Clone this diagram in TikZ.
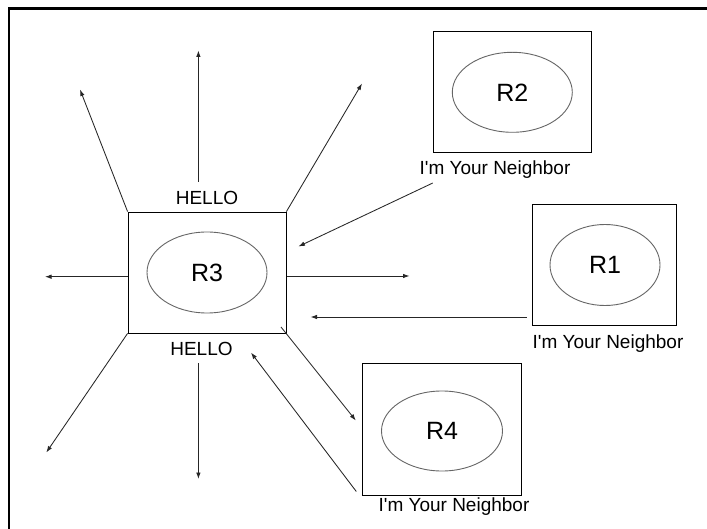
\documentclass[tikz,border=0pt]{standalone}
\usepackage{fontspec}
\setmainfont{Liberation Sans}[Ligatures=TeXOff]
\usetikzlibrary{arrows.meta,shapes.geometric}

\begin{document}
\begin{tikzpicture}[x=1pt,y=-1pt,
  router/.style={draw=black,line width=0.85pt,fill=none,inner sep=0pt},
  core/.style={ellipse,draw=black!60,line width=0.9pt,inner sep=0pt,
    font=\fontsize{25}{30}\selectfont},
  tag/.style={inner sep=0pt,font=\fontsize{19}{22}\selectfont},
  msg/.style={draw=black!85,line width=0.85pt,
    -{Latex[length=6.5pt,width=4.5pt]}}]

\useasboundingbox (0,0) rectangle (707,529);
\fill[white] (0,0) rectangle (707,529);

% outer frame
\draw[line width=2.6pt,line cap=rect] (9,529) -- (9,8.5) -- (707,8.5);

% routers: frame and inner ellipse
\node[router,minimum width=158pt,minimum height=121pt] (r3box) at (207,272.5) {};
\node[core,minimum width=120pt,minimum height=81pt] (r3) at (207,272.5) {R3};

\node[router,minimum width=158.5pt,minimum height=121pt] (r2box) at (512.5,92.2) {};
\node[core,minimum width=120pt,minimum height=80pt] (r2) at (512.3,92.3) {R2};

\node[router,minimum width=144.4pt,minimum height=121.4pt] (r1box) at (604.5,265) {};
\node[core,minimum width=110pt,minimum height=81pt] (r1) at (605,265) {R1};

\node[router,minimum width=158.5pt,minimum height=132pt] (r4box) at (442,429.2) {};
\node[core,minimum width=121pt,minimum height=80pt] (r4) at (442,431) {R4};

% labels
\node[tag] (helloup) at (207,197.5) {HELLO};
\node[tag] (hellodown) at (201.5,349) {HELLO};
\node[tag] (n2) at (495,170) {I'm Your Neighbor};
\node[tag] (n1) at (608,343.5) {I'm Your Neighbor};
\node[tag] (n4) at (454,507) {I'm Your Neighbor};

% free ends of the hello broadcasts
\coordinate (upS) at (198.4,182);
\coordinate (upT) at (198.4,50.5);
\coordinate (ulT) at (80,89.5);
\coordinate (urT) at (362,83.5);
\coordinate (lS) at (128,276.7);
\coordinate (lT) at (45,276.7);
\coordinate (rS) at (286.5,276);
\coordinate (rT) at (409.5,276);
\coordinate (dlT) at (46.3,452.5);
\coordinate (dS) at (198.4,363.4);
\coordinate (dT) at (198.4,479);
\coordinate (r4S) at (281,327);
\coordinate (r4T) at (355.8,420.5);

% free ends of the neighbor replies
\coordinate (fromR4) at (356.3,491.5);
\coordinate (toR3a) at (251,352.6);
\coordinate (fromR2) at (432.8,183);
\coordinate (toR3b) at (298.4,246.5);
\coordinate (fromR1) at (526.6,317);
\coordinate (toR3c) at (310.5,317);

% hello broadcasts from R3
\draw[msg] (upS) -- (upT);
\draw[msg] (r3box.north west) -- (ulT);
\draw[msg] (r3box.north east) -- (urT);
\draw[msg] (lS) -- (lT);
\draw[msg] (rS) -- (rT);
\draw[msg] (r3box.south west) -- (dlT);
\draw[msg] (dS) -- (dT);
\draw[msg] (r4S) -- (r4T);

% replies back to R3
\draw[msg] (fromR4) -- (toR3a);
\draw[msg] (fromR2) -- (toR3b);
\draw[msg] (fromR1) -- (toR3c);
\end{tikzpicture}
\end{document}
